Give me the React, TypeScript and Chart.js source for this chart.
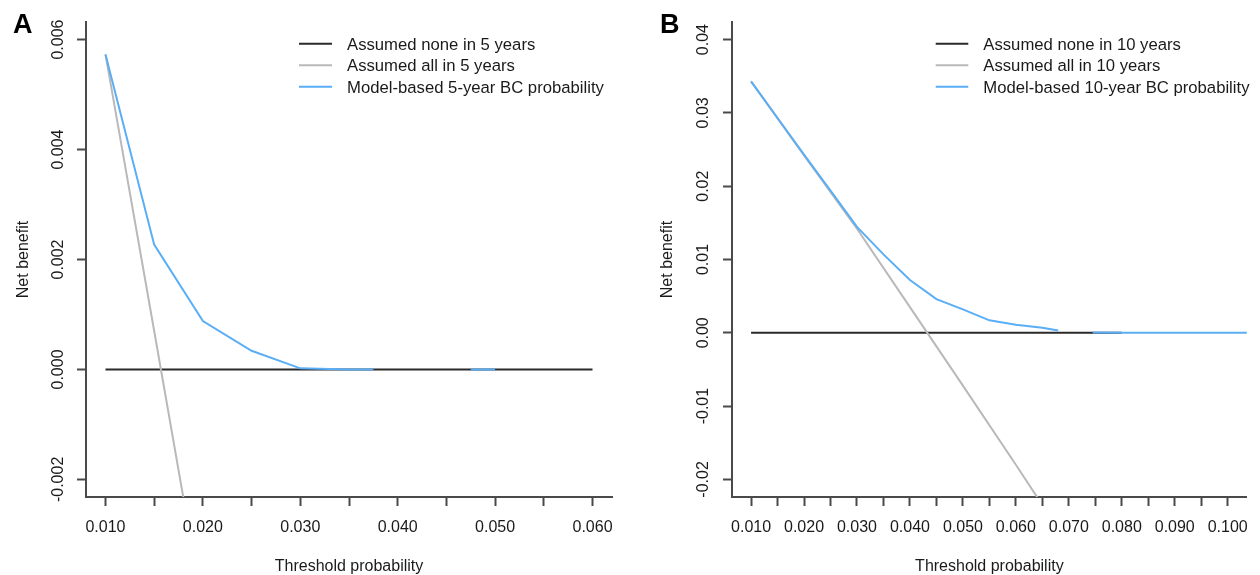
import React, { useEffect, useRef } from 'react';
import { Chart, registerables } from 'chart.js';

Chart.register(...registerables);

const FONT = '"Liberation Sans", Arial, Helvetica, sans-serif';
const TEXT = '#1a1a1a';
const AXIS = '#4a4a4a';
const BLACK = '#2a2a2a';
const GRAY = '#b9b9b9';
const BLUE = '#5aaef5';

// ---------- Panel A (5 years) ----------
const labelsA = ['Assumed none in 5 years', 'Assumed all in 5 years', 'Model-based 5-year BC probability'];
const noneThresholdA = [0.010, 0.060];
const noneBenefitA = [0, 0];
const allThresholdA = [0.010, 0.015, 0.020];
const allBenefitA = [0.00573, 0.00070, -0.00436];
const modelThresholdA = [0.010, 0.015, 0.020, 0.025, 0.030, 0.035, 0.0375, 0.040, 0.0475, 0.050];
const modelBenefitA = [0.00573, 0.00227, 0.00088, 0.00034, 0.00002, 0.0, 0.0, null, 0.0, 0.0];
const xTicksA = [0.010, 0.015, 0.020, 0.025, 0.030, 0.035, 0.040, 0.045, 0.050, 0.055, 0.060];
const xTickLabelsA = ['0.010', '', '0.020', '', '0.030', '', '0.040', '', '0.050', '', '0.060'];
const yTicksA = [-0.002, 0, 0.002, 0.004, 0.006];
const yTickLabelsA = ['-0.002', '0.000', '0.002', '0.004', '0.006'];

// ---------- Panel B (10 years) ----------
const labelsB = ['Assumed none in 10 years', 'Assumed all in 10 years', 'Model-based 10-year BC probability'];
const noneThresholdB = [0.010, 0.080];
const noneBenefitB = [0, 0];
const allThresholdB = [0.010, 0.020, 0.030, 0.040, 0.050, 0.060, 0.070];
const allBenefitB = [0.0343, 0.0242, 0.0142, 0.0035, -0.0072, -0.0180, -0.0290];
const modelThresholdB = [0.010, 0.015, 0.020, 0.025, 0.030, 0.035, 0.040, 0.045, 0.050, 0.055, 0.060, 0.065, 0.068, 0.070, 0.0745, 0.080, 0.090, 0.100, 0.110];
const modelBenefitB = [0.0343, 0.0293, 0.0243, 0.0194, 0.01445, 0.0107, 0.0072, 0.0046, 0.0032, 0.0017, 0.0011, 0.0007, 0.0003, null, 0.00005, 0.00002, 0.0, 0.0, 0.0];
const xTicksB = [0.010, 0.015, 0.020, 0.025, 0.030, 0.035, 0.040, 0.045, 0.050, 0.055, 0.060, 0.065, 0.070, 0.075, 0.080, 0.085, 0.090, 0.095, 0.100];
const xTickLabelsB = ['0.010', '', '0.020', '', '0.030', '', '0.040', '', '0.050', '', '0.060', '', '0.070', '', '0.080', '', '0.090', '', '0.100'];
const yTicksB = [-0.02, -0.01, 0, 0.01, 0.02, 0.03, 0.04];
const yTickLabelsB = ['-0.02', '-0.01', '0.00', '0.01', '0.02', '0.03', '0.04'];

const makePoints = (xs: number[], ys: (number | null)[]) => xs.map((x, i) => ({ x, y: ys[i] }));

const decorPlugin = {
  id: 'rDecor',
  afterDraw(chart: any, _args: any, opts: any) {
    const ctx = chart.ctx;
    ctx.save();
    ctx.font = `bold 27px ${FONT}`;
    ctx.fillStyle = '#000';
    ctx.textBaseline = 'alphabetic';
    ctx.textAlign = 'left';
    ctx.fillText(opts.letter, opts.letterX, opts.letterY);
    ctx.font = `16.7px ${FONT}`;
    ctx.textBaseline = 'middle';
    chart.data.datasets.forEach((ds: any, i: number) => {
      const y = opts.legendY + i * opts.legendStep;
      ctx.strokeStyle = ds.borderColor;
      ctx.lineWidth = ds.borderWidth;
      ctx.beginPath();
      ctx.moveTo(opts.lineX1, y - 1.5);
      ctx.lineTo(opts.lineX2, y - 1.5);
      ctx.stroke();
      ctx.fillStyle = TEXT;
      ctx.fillText(ds.label, opts.textX, y);
    });
    ctx.restore();
  },
};

type PanelSpec = {
  labels: string[];
  noneX: number[]; noneY: number[];
  allX: number[]; allY: number[];
  modelX: number[]; modelY: (number | null)[];
  xTicks: number[]; xTickLabels: string[];
  yTicks: number[]; yTickLabels: string[];
  xMin: number; xMax: number; yMin: number; yMax: number;
  yWidth: number; padRight: number; yTickPad: number; yTitlePad: number;
  letter: string; letterX: number; lineX1: number; lineX2: number; textX: number;
};

function makeConfig(p: PanelSpec): any {
  const tickFont = { family: FONT, size: 16 };
  return {
    type: 'line',
    data: {
      datasets: [
        { label: p.labels[0], data: makePoints(p.noneX, p.noneY), borderColor: BLACK, borderWidth: 2, order: 3, clip: 0 },
        { label: p.labels[1], data: makePoints(p.allX, p.allY), borderColor: GRAY, borderWidth: 2, order: 2, clip: 0 },
        { label: p.labels[2], data: makePoints(p.modelX, p.modelY), borderColor: BLUE, borderWidth: 2, order: 1, clip: 0 },
      ],
    },
    options: {
      responsive: false,
      animation: false,
      spanGaps: false,
      elements: { point: { radius: 0, hoverRadius: 0 }, line: { tension: 0, fill: false } },
      layout: { padding: { left: 0, right: p.padRight, top: 22, bottom: 0 } },
      events: [],
      plugins: {
        legend: { display: false },
        tooltip: { enabled: false },
        rDecor: {
          letter: p.letter, letterX: p.letterX, letterY: 33,
          legendY: 45.3, legendStep: 21.5,
          lineX1: p.lineX1, lineX2: p.lineX2, textX: p.textX,
        },
      },
      scales: {
        x: {
          type: 'linear',
          min: p.xMin,
          max: p.xMax,
          afterBuildTicks: (s: any) => { s.ticks = p.xTicks.map((v) => ({ value: v })); },
          afterFit: (s: any) => { s.height = 78; },
          ticks: {
            autoSkip: false, maxRotation: 0, minRotation: 0, includeBounds: false,
            padding: 12.2, color: TEXT, font: tickFont,
            callback: (_v: any, i: number) => p.xTickLabels[i],
          },
          grid: { display: true, drawOnChartArea: false, drawTicks: true, tickLength: 9, tickWidth: 2, tickColor: AXIS },
          border: { display: true, color: AXIS, width: 2 },
          title: { display: true, text: 'Threshold probability', color: TEXT, font: tickFont, padding: { top: 0, bottom: -1 } },
        },
        y: {
          type: 'linear',
          min: p.yMin,
          max: p.yMax,
          afterBuildTicks: (s: any) => { s.ticks = p.yTicks.map((v) => ({ value: v })); },
          afterFit: (s: any) => { s.width = p.yWidth; },
          ticks: {
            autoSkip: false, minRotation: 90, maxRotation: 90, includeBounds: false,
            crossAlign: 'center', padding: p.yTickPad, color: TEXT, font: tickFont,
            callback: (_v: any, i: number) => p.yTickLabels[i],
          },
          grid: { display: true, drawOnChartArea: false, drawTicks: true, tickLength: 9, tickWidth: 2, tickColor: AXIS },
          border: { display: true, color: AXIS, width: 2 },
          title: { display: true, text: 'Net benefit', color: TEXT, font: tickFont, padding: { top: p.yTitlePad, bottom: 0 } },
        },
      },
    },
    plugins: [decorPlugin],
  };
}

const panelA: PanelSpec = {
  labels: labelsA,
  noneX: noneThresholdA, noneY: noneBenefitA,
  allX: allThresholdA, allY: allBenefitA,
  modelX: modelThresholdA, modelY: modelBenefitA,
  xTicks: xTicksA, xTickLabels: xTickLabelsA,
  yTicks: yTicksA, yTickLabels: yTickLabelsA,
  xMin: 0.008, xMax: 0.062, yMin: -0.00232, yMax: 0.00632,
  yWidth: 86, padRight: 18, yTickPad: -4.5, yTitlePad: 14.2,
  letter: 'A', letterX: 13, lineX1: 299, lineX2: 332, textX: 347,
};

const panelB: PanelSpec = {
  labels: labelsB,
  noneX: noneThresholdB, noneY: noneBenefitB,
  allX: allThresholdB, allY: allBenefitB,
  modelX: modelThresholdB, modelY: modelBenefitB,
  xTicks: xTicksB, xTickLabels: xTickLabelsB,
  yTicks: yTicksB, yTickLabels: yTickLabelsB,
  xMin: 0.0064, xMax: 0.1036, yMin: -0.0224, yMax: 0.0424,
  yWidth: 102, padRight: 2, yTickPad: 0.8, yTitlePad: 28.4,
  letter: 'B', letterX: 30, lineX1: 305.7, lineX2: 338.3, textX: 353.3,
};

function Panel({ spec, left }: { spec: PanelSpec; left: number }) {
  const ref = useRef<HTMLCanvasElement>(null);
  useEffect(() => {
    const chart = new Chart(ref.current as HTMLCanvasElement, makeConfig(spec));
    return () => chart.destroy();
  }, [spec]);
  return (
    <canvas
      ref={ref}
      width={630}
      height={575}
      style={{ position: 'absolute', left, top: 0, width: 630, height: 575 }}
    />
  );
}

export default function App() {
  return (
    <div style={{ position: 'absolute', left: 0, top: 0, width: 1260, height: 575, overflow: 'hidden', background: '#fff' }}>
      <Panel spec={panelA} left={0} />
      <Panel spec={panelB} left={630} />
    </div>
  );
}
